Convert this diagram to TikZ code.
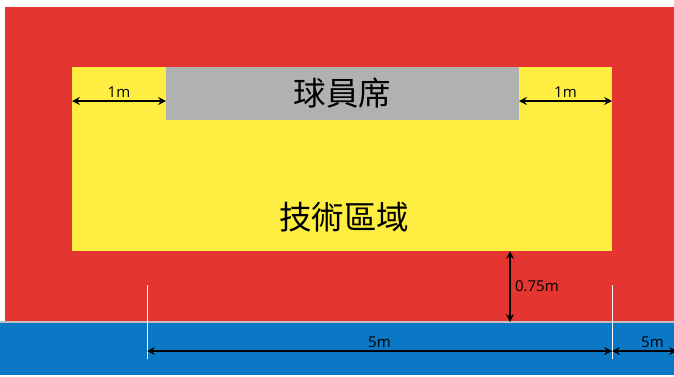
\documentclass[tikz,border=0pt]{standalone}
\usepackage{fontspec}
\setmainfont{Open Sans}
\newfontfamily\cjk{Noto Sans CJK TC}
\usetikzlibrary{arrows.meta}
\definecolor{zonered}{HTML}{E53531}
\definecolor{zoneyellow}{HTML}{FDEE41}
\definecolor{zonegray}{HTML}{B1B1B1}
\definecolor{zoneblue}{HTML}{0A78C4}
\tikzstyle{zone}     = [rectangle,inner sep=0,outer sep=0]
\tikzstyle{dimtext}  = [font=\fontsize{15}{15}\selectfont,inner sep=2.5]
\tikzstyle{dimline}  = [{Stealth[length=8,width=8,inset=3]}-{Stealth[length=8,width=8,inset=3]},line width=1.1]
\tikzstyle{extline}  = [white,line width=1]

\begin{document}
\begin{tikzpicture}[x=1pt,y=-1pt]

    \clip (0,0) rectangle (674,376);
    \fill[white] (0,0) rectangle (674,376);

    % Areas
    \node(red)[zone, fill=zonered, minimum width=670, minimum height=315, anchor=north west] at (5,7) {};
    \node(blue)[zone, fill=zoneblue, minimum width=674, minimum height=53, anchor=north west] at (0,322) {};
    \draw[color=black!25, line width=1.2] (blue.north west) -- (blue.north east);
    \node(tech)[zone, fill=zoneyellow, minimum width=540, minimum height=184, anchor=north west] at (72,67) {};
    \node(bench)[zone, fill=zonegray, minimum width=353, minimum height=53, anchor=north west] at (166,67)
        {\cjk\fontsize{32.5}{32.5}\selectfont 球員席};
    \node(techlabel) at (344,217) {\cjk\fontsize{32.5}{32.5}\selectfont 技術區域};

    % 1m on both sides of the bench
    \coordinate(l1) at (tech.west |- 0,101);
    \coordinate(l2) at (bench.west |- 0,101);
    \coordinate(r1) at (bench.east |- 0,101);
    \coordinate(r2) at (tech.east |- 0,101);
    \draw[dimline] (l1) -- node[dimtext, above]{1m} (l2);
    \draw[dimline] (r1) -- node[dimtext, above]{1m} (r2);

    % 0.75m gap
    \coordinate(g1) at (510,251);
    \coordinate(g2) at (510,322);
    \draw[dimline] (g1) -- node[dimtext, right, xshift=2]{0.75m} (g2);

    % 5m marks
    \coordinate(m1) at (147,285);
    \coordinate(m2) at (147,359);
    \coordinate(m3) at (612,285);
    \coordinate(m4) at (612,359);
    \draw[extline] (m1) -- (m2);
    \draw[extline] (m3) -- (m4);
    \coordinate(a1) at (147,351);
    \coordinate(a2) at (612,351);
    \coordinate(a3) at (677,351);
    \draw[dimline] (a1) -- node[dimtext, above]{5m} (a2);
    \draw[dimline] (a2) -- node[dimtext, above, xshift=8]{5m} (a3);

\end{tikzpicture}
\end{document}
